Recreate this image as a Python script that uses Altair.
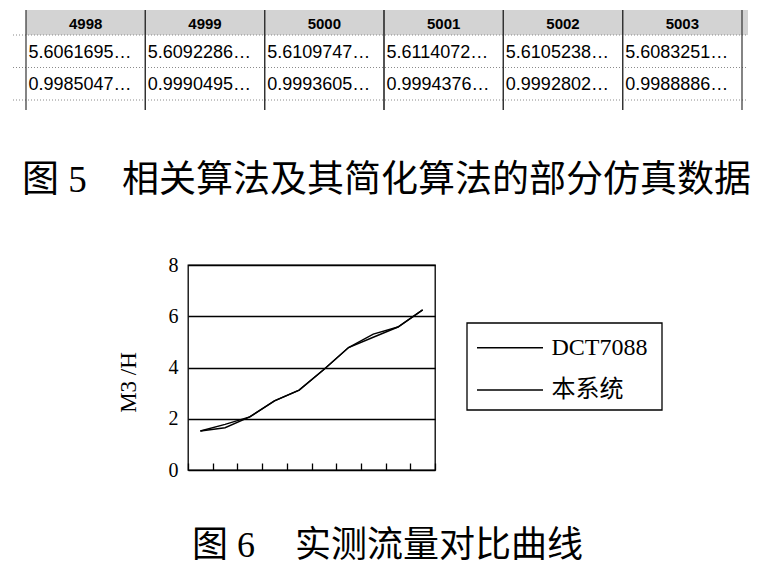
import altair as alt
import pandas as pd

# ---------------- Table (Fig. 5) ----------------
table_cols = ["4998", "4999", "5000", "5001", "5002", "5003"]
row1_vals = ["5.6061695…", "5.6092286…", "5.6109747…", "5.6114072…",
             "5.6105238…", "5.6083251…"]
row2_vals = ["0.9985047…", "0.9990495…", "0.9993605…", "0.9994376…",
             "0.9992802…", "0.9988886…"]
row_keys = ["r1", "r2", "r3"]

caption5_fig = ["图 5"]
caption5_text = ["相关算法及其简化算法的部分仿真数据"]
caption6_fig = ["图 6"]
caption6_text = ["实测流量对比曲线"]

# ---------------- Line chart (Fig. 6) ----------------
x_points = [1, 2, 3, 4, 5, 6, 7, 8, 9, 10]
dct7088 = [1.52, 1.65, 2.07, 2.70, 3.12, 3.92, 4.78, 5.18, 5.58, 6.25]
this_system = [1.52, 1.78, 2.07, 2.70, 3.12, 3.92, 4.78, 5.30, 5.58, 6.25]
series_names = ["DCT7088", "本系统"]
y_ticks = [0, 2, 4, 6, 8]

SERIF = "Liberation Serif, 'Noto Sans CJK SC'"
SANS = "Liberation Sans, Arial"
CJK = "'Noto Sans CJK SC'"

line_df = pd.DataFrame({
    "x": x_points + x_points,
    "y": dct7088 + this_system,
    "series": [series_names[0]] * len(x_points) + [series_names[1]] * len(x_points),
})

lines = alt.Chart(line_df).mark_line(strokeWidth=1.4, color="black").encode(
    x=alt.X("x:O", bandPosition=0.5,
            scale=alt.Scale(type="band", paddingInner=0, paddingOuter=0),
            axis=alt.Axis(labels=False, title=None, domain=False, grid=False,
                          ticks=True, tickBand="extent", tickSize=7,
                          tickColor="black", tickWidth=1.3, offset=-7)),
    y=alt.Y("y:Q", scale=alt.Scale(domain=[0, 8]),
            axis=alt.Axis(values=y_ticks, grid=True, gridColor="black", gridWidth=1.3,
                          gridOpacity=1, ticks=False, domain=False,
                          labelFont=SERIF, labelFontSize=20, labelColor="black",
                          labelPadding=10, title="M3 /H", titleFont=SERIF,
                          titleFontSize=23, titleFontWeight="normal", titleColor="black",
                          titleX=-60, titleY=117, titleAngle=270, titleAlign="center",
                          titleBaseline="middle")),
    detail="series:N",
)

# ---------------- custom legend box ----------------
legend_df = pd.DataFrame({"series": series_names})
leg_scale = alt.Scale(type="point", domain=series_names, range=[82.7, 125], padding=0)
legend_box = alt.Chart(pd.DataFrame({"k": [1]})).mark_rect(
    fillOpacity=0, stroke="black", strokeWidth=1.3).encode(
    x=alt.value(279), x2=alt.value(474), y=alt.value(58), y2=alt.value(145))
legend_lines = alt.Chart(legend_df).mark_rule(color="black", strokeWidth=1.4).encode(
    y=alt.Y("series:N", scale=leg_scale, axis=None),
    x=alt.value(289), x2=alt.value(355))
legend_text = alt.Chart(legend_df).mark_text(
    font=SERIF, fontSize=24, color="black", align="left", baseline="middle").encode(
    y=alt.Y("series:N", scale=leg_scale, axis=None),
    x=alt.value(363.5), text="series:N")
legend = alt.layer(legend_box, legend_lines, legend_text)

# ---------------- table layers ----------------
cols_df = pd.DataFrame({"col": table_cols})
rows_df = pd.DataFrame({"row": row_keys})
cells_df = pd.DataFrame({
    "col": table_cols + table_cols,
    "row": ["r1"] * len(table_cols) + ["r2"] * len(table_cols),
    "val": row1_vals + row2_vals,
})

col_scale = alt.Scale(type="band", domain=table_cols, range=[-162, 554],
                      paddingInner=0, paddingOuter=0)
row_scale = alt.Scale(type="band", domain=row_keys, range=[-230, -132.5],
                      paddingInner=0, paddingOuter=0)

header_bg = alt.Chart(pd.DataFrame({"k": [1]})).mark_rect(fill="#d3d3d3").encode(
    x=alt.value(-162), x2=alt.value(560),
    y=alt.value(-255), y2=alt.value(-230),
)
vsep_left = alt.Chart(cols_df).mark_rule(color="#333333", strokeWidth=1.2).encode(
    x=alt.X("col:N", bandPosition=0, scale=col_scale, axis=None),
    y=alt.value(-255), y2=alt.value(-155),
)
vsep_right = alt.Chart(cols_df).mark_rule(color="#333333", strokeWidth=1.2).encode(
    x=alt.X("col:N", bandPosition=1, scale=col_scale, axis=None),
    y=alt.value(-255), y2=alt.value(-155),
)
hsep = alt.Chart(rows_df).mark_rule(color="#8a8a8a", strokeWidth=1, strokeDash=[1, 2]).encode(
    y=alt.Y("row:N", bandPosition=0, scale=row_scale, axis=None),
    x=alt.value(-175), x2=alt.value(560),
)
header_txt = alt.Chart(cols_df).mark_text(
    font="Liberation Sans", fontSize=15, fontWeight="bold", color="black",
    baseline="middle", align="center").encode(
    x=alt.X("col:N", bandPosition=0.5, scale=col_scale, axis=None),
    y=alt.value(-241),
    text="col:N",
)
cells = alt.Chart(cells_df).mark_text(
    font=SANS, fontSize=18, color="black", align="left", baseline="middle",
    dx=2.5, dy=1.5).encode(
    x=alt.X("col:N", bandPosition=0, scale=col_scale, axis=None),
    y=alt.Y("row:N", bandPosition=0.5, scale=row_scale, axis=None),
    text="val:N",
)
table = alt.layer(header_bg, hsep, vsep_left, vsep_right, header_txt, cells)

# ---------------- captions ----------------
def caption(lst, x, y, size, font):
    return alt.Chart(pd.DataFrame({"t": lst})).mark_text(
        font=font, fontSize=size, color="black", align="left", baseline="middle").encode(
        x=alt.value(x), y=alt.value(y), text="t:N")

cap5a = caption(caption5_fig, -166, -84, 37, SERIF)
cap5b = caption(caption5_text, -66, -84, 37, CJK)
cap6a = caption(caption6_fig, 4, 281, 36, SERIF)
cap6b = caption(caption6_text, 107, 281, 36, CJK)

chart = alt.layer(lines, legend, table, cap5a, cap5b, cap6a, cap6b).resolve_scale(
    x="independent", y="independent"
).properties(
    width=247, height=205,
    autosize=alt.AutoSizeParams(type="none"),
    padding={"left": 180, "top": 257, "right": 323, "bottom": 96},
).configure_view(stroke="black", strokeWidth=1.3)

chart.save("out.html", embed_options={"renderer": "svg", "actions": False})
